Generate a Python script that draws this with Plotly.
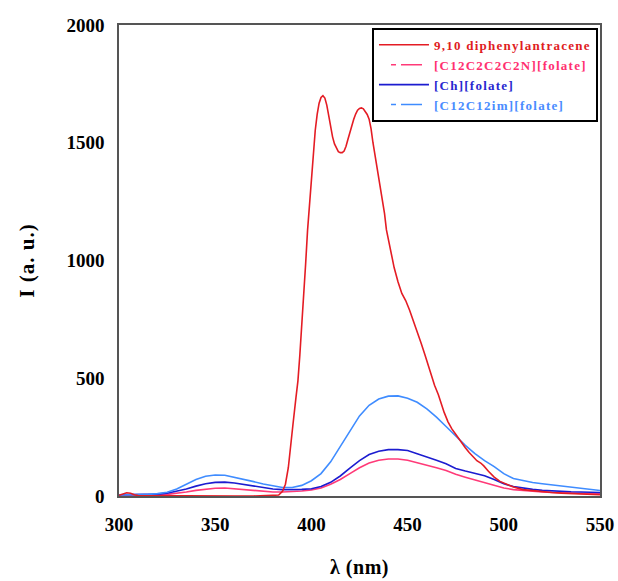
import plotly.graph_objects as go

# ---- data ----
x_common = [300, 305, 310, 315, 320, 325, 330, 335, 340, 345, 350, 355, 360, 365, 370, 375,
            380, 385, 390, 395, 400, 405, 410, 415, 420, 425, 430, 435, 440, 445, 450, 455,
            460, 465, 470, 475, 480, 485, 490, 495, 500, 505, 510, 515, 520, 525, 530, 535,
            540, 545, 550]

y_c12c12im = [4, 4, 5, 7, 10, 16, 30, 50, 70, 84, 89, 88, 80, 71, 61, 51,
              42, 36, 36, 45, 65, 95, 145, 210, 280, 340, 385, 412, 424, 425, 415, 398,
              370, 335, 295, 255, 215, 180, 150, 125, 95, 74, 64, 57, 52, 47, 42, 37,
              32, 27, 23]

y_ch = [5, 5, 5, 6, 8, 12, 20, 30, 42, 52, 58, 59, 55, 48, 41, 35,
        30, 27, 27, 28, 31, 40, 58, 85, 118, 150, 176, 190, 197, 197, 193, 180,
        166, 152, 137, 117, 106, 95, 86, 70, 52, 40, 33, 28, 24, 21, 19, 18,
        17, 16, 15]

y_c12n = [2, 2, 3, 4, 5, 7, 11, 17, 24, 30, 33, 34, 31, 26, 22, 19,
          17, 17, 18, 21, 26, 34, 50, 70, 95, 120, 140, 152, 157, 157, 152, 142,
          131, 120, 108, 92, 80, 68, 57, 46, 34, 27, 23, 20, 17, 15, 13, 12,
          11, 10, 10]

x_dpa = [300, 302, 304, 306, 308, 310, 320, 330, 340, 350, 360, 370, 380, 383, 385, 386.5,
         388, 389, 390.5, 392, 393, 394, 395, 396, 397, 398, 399, 400, 401, 402, 403, 404,
         405, 406, 407, 408, 409, 410, 411, 412, 413, 414, 415, 416, 417, 418, 419, 420,
         421, 422, 423, 424, 425, 426, 427, 428, 429, 430, 431, 432, 433, 434, 435, 436,
         437, 438, 439, 440, 441, 442, 443, 444, 445, 447, 449, 451, 453, 455, 457, 459,
         460, 462, 464, 466, 467, 469, 471, 473, 475, 476.6, 478, 480, 482, 484, 486, 488,
         489.6, 492, 495, 498, 500, 502, 505, 510, 515, 519, 525, 530, 535, 540, 545, 550]
y_dpa = [3, 10, 14, 12, 5, 2, 1, 1, 0, 0, 0, 0, 1, 4, 20, 50,
         120, 205, 310, 420, 489, 600, 720, 838, 985, 1128, 1240, 1340, 1450, 1553, 1620, 1668,
         1692, 1700, 1690, 1660, 1615, 1565, 1525, 1495, 1475, 1462, 1458, 1458, 1465, 1485, 1515, 1545,
         1575, 1600, 1622, 1638, 1646, 1648, 1644, 1632, 1620, 1600, 1560, 1500, 1450, 1413, 1350, 1300,
         1268, 1200, 1130, 1085, 1050, 1010, 970, 935, 910, 860, 830, 790, 745, 702, 650, 600,
         574, 520, 470, 430, 404, 355, 315, 285, 262, 243, 225, 205, 185, 165, 150, 140,
         128, 105, 80, 62, 55, 48, 38, 27, 22, 20, 15, 12, 10, 8, 7, 5]

names = ["9,10 diphenylantracene", "[C12C2C2C2N][folate]", "[Ch][folate]", "[C12C12im][folate]"]
line_colors = ["#E41C24", "#FF3A78", "#1C1CD0", "#3F8CFF"]
text_colors = ["#E0201E", "#FF3070", "#2828D0", "#4A8CFF"]
legend_dash = ["solid", "0px,12px,5px,5px,21px,100px", "solid", "0px,12px,5px,5px,21px,100px"]

x_ticks = [300, 350, 400, 450, 500, 550]
y_ticks = [0, 500, 1000, 1500, 2000]

FONT = "Liberation Serif"

fig = go.Figure()

series = [
    (x_dpa, y_dpa),
    (x_common, y_c12n),
    (x_common, y_ch),
    (x_common, y_c12c12im),
]
# draw order: pink, dark blue, light blue, red on top
for idx in [1, 2, 3, 0]:
    xs, ys = series[idx]
    fig.add_trace(go.Scatter(x=xs, y=ys, mode="lines",
                             line=dict(color=line_colors[idx], width=1.6),
                             showlegend=False, hoverinfo="skip"))

# legend-only entries (styled like the reference legend)
for i in range(4):
    fig.add_trace(go.Scatter(
        x=[None], y=[None], mode="lines",
        line=dict(color=line_colors[i], width=1.6, dash=legend_dash[i]),
        name=(f"<span style='color:{text_colors[i]};letter-spacing:1.25px'>"
              f"<b>{names[i]}</b></span>"),
        showlegend=True))

fig.update_layout(
    width=618, height=581,
    margin=dict(l=119, r=18, t=25, b=85),
    paper_bgcolor="white", plot_bgcolor="white",
    font=dict(family=FONT, color="black"),
    legend=dict(x=0.9958, y=0.994, xanchor="right", yanchor="top",
                bordercolor="black", borderwidth=2, bgcolor="white",
                font=dict(family=FONT, size=13),
                itemwidth=50, tracegroupgap=0),
    xaxis=dict(range=[300, 550], tickvals=x_ticks, ticktext=[str(v) for v in x_ticks],
               showgrid=False, zeroline=False, showline=True, mirror=True,
               linecolor="#555555", linewidth=1.5, ticks="", automargin=False,
               ticklabelstandoff=10,
               tickfont=dict(family=FONT, size=19, color="black", weight="bold"),
               title=dict(text="<b><span style='letter-spacing:0.5px'>λ (nm)</span></b>", standoff=26,
                          font=dict(family=FONT, size=20, color="black"))),
    yaxis=dict(range=[0, 2000], tickvals=y_ticks, ticktext=[str(v) for v in y_ticks],
               showgrid=False, zeroline=False, showline=True, mirror=True,
               linecolor="#555555", linewidth=1.5, ticks="", automargin=False,
               ticklabelstandoff=9,
               tickfont=dict(family=FONT, size=19, color="black", weight="bold"),
               title=dict(text="<b><span style='letter-spacing:1px'>I (a. u.)</span></b>", standoff=26,
                          font=dict(family=FONT, size=21, color="black"))),
)

fig.write_html("out.html")
